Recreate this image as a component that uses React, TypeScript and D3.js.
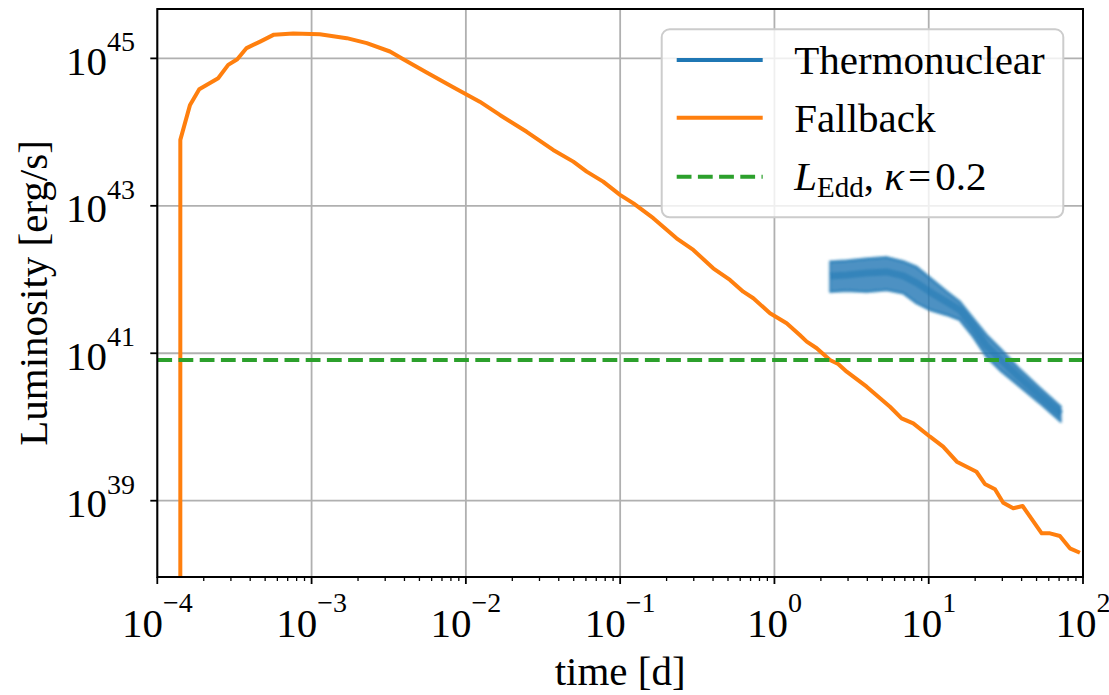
import React from "react";
import * as d3 from "d3";

// ---- data ----
const timeFallback = [
  1.41e-4, 1.41e-4, 1.63e-4, 1.87e-4, 2.48e-4, 2.88e-4, 3.3e-4, 3.79e-4, 4.64e-4, 5.7e-4,
  7.6e-4, 1.13e-3, 1.69e-3, 2.28e-3, 3.22e-3, 3.93e-3, 5.57e-3, 8.28e-3, 1.23e-2, 1.66e-2,
  2.48e-2, 3.68e-2, 4.97e-2, 6.07e-2, 7.76e-2, 9.98e-2, 0.122, 0.164, 0.232, 0.298,
  0.401, 0.515, 0.628, 0.73, 0.936, 1.2, 1.46, 1.62, 1.88, 2.29,
  2.59, 2.94, 3.96, 5.61, 6.67, 7.94, 10.2, 12.4, 15.2, 20.4,
  23.1, 26.9, 30.4, 35.3, 40.6, 54.0, 61.1, 70.8, 82.2, 95.5,
];
const lumFallback = [
  1e36, 7.84e43, 2.34e44, 3.82e44, 5.39e44, 8.17e44, 9.75e44, 1.38e45, 1.69e45, 2.1e45,
  2.17e45, 2.13e45, 1.88e45, 1.61e45, 1.24e45, 9.75e44, 6.42e44, 4.07e44, 2.59e44, 1.71e44,
  1.01e44, 5.73e43, 3.98e43, 2.91e43, 2.13e43, 1.41e43, 1.08e43, 6.79e42, 3.63e42, 2.52e42,
  1.42e42, 9.89e41, 6.85e41, 5.57e41, 3.49e41, 2.55e41, 1.77e41, 1.44e41, 1.17e41, 8.11e40,
  7.16e40, 5.62e40, 3.52e40, 1.88e40, 1.31e40, 1.12e40, 7.38e39, 5.41e39, 3.38e39, 2.47e39,
  1.69e39, 1.43e39, 9.4e38, 7.89e38, 8.47e38, 3.61e38, 3.61e38, 3.32e38, 2.26e38, 1.97e38,
];

const timeThermo = [2.29, 2.94, 3.96, 5.34, 6.84, 8.35, 10.2, 13.1, 15.9, 19.4, 23.7, 28.9, 39.0, 52.6, 71.9];
const lumThermoUpper = [1.75e42, 1.8e42, 1.91e42, 2.0e42, 1.76e42, 1.48e42, 1.05e42, 6.85e41, 5.01e41, 2.96e41, 1.77e41, 1.17e41, 6.03e40, 3.38e40, 1.88e40];
const lumThermoMid = [1.12e42, 1.15e42, 1.23e42, 1.27e42, 1.12e42, 8.99e41, 6.79e41, 4.97e41, 3.87e41, 2.28e41, 1.26e41, 8.37e40, 4.62e40, 2.64e40, 1.5e40];
const lumThermoLower = [6.85e41, 7.07e41, 6.85e41, 7.23e41, 6.52e41, 4.77e41, 3.87e41, 3.31e41, 2.83e41, 1.68e41, 8.99e40, 5.93e40, 3.52e40, 2.1e40, 1.18e40];

const lumEddington = 8.1e40;

const xTickExps = [-4, -3, -2, -1, 0, 1, 2];
const yTickExps = [39, 41, 43, 45];

const legendLabels = ["Thermonuclear", "Fallback"];

// ---- layout ----
const W = 1109;
const H = 695;
const L = 157.3;
const R = 1083;
const T = 9;
const B = 577;

const BLUE = "#1f77b4";
const ORANGE = "#ff7f0e";
const GREEN = "#2ca02c";
const FONT = "'Liberation Serif', 'Times New Roman', serif";

function sup(e: number) {
  return e < 0 ? "\u2212" + Math.abs(e) : String(e);
}

export default function App() {
  const x = d3.scaleLog().domain([1e-4, 1e2]).range([L, R]);
  const y = d3.scaleLog().domain([Math.pow(10, 37.965), Math.pow(10, 45.67)]).range([B, T]);

  const line = d3
    .line<[number, number]>()
    .x((d) => x(d[0]))
    .y((d) => y(d[1]));

  const fallbackPts = timeFallback.map((t, i) => [t, lumFallback[i]] as [number, number]);
  const upperPts = timeThermo.map((t, i) => [t, lumThermoUpper[i]] as [number, number]);
  const midPts = timeThermo.map((t, i) => [t, lumThermoMid[i]] as [number, number]);
  const lowerPts = timeThermo.map((t, i) => [t, lumThermoLower[i]] as [number, number]);

  const area = d3
    .area<number>()
    .x((_, i) => x(timeThermo[i]))
    .y0((_, i) => y(lumThermoLower[i]))
    .y1((_, i) => y(lumThermoUpper[i]));

  const minorTicks: number[] = [];
  for (let e = -4; e < 2; e++) {
    for (let k = 2; k <= 9; k++) minorTicks.push(k * Math.pow(10, e));
  }

  const legX = 661.7;
  const legY = 29.3;
  const legW = 401.6;
  const legH = 188;
  const rowY = [60, 117.7, 176.7];
  const lineX0 = 676.7;
  const lineX1 = 762.7;
  const textX = 794.3;

  return (
    <svg
      width={W}
      height={H}
      style={{ position: "absolute", left: 0, top: 0, background: "#fff" }}
      fontFamily={FONT}
    >
      <defs>
        <clipPath id="plotclip">
          <rect x={L} y={T} width={R - L} height={B - T} />
        </clipPath>
        <filter id="soft" x="-5%" y="-5%" width="110%" height="110%">
          <feGaussianBlur stdDeviation={0.8} />
        </filter>
      </defs>
      <rect x={0} y={0} width={W} height={H} fill="#fff" />

      {/* grid */}
      <g stroke="#b0b0b0" strokeWidth={1.8}>
        {xTickExps.map((e) => (
          <line key={"gx" + e} x1={x(Math.pow(10, e))} x2={x(Math.pow(10, e))} y1={T} y2={B} />
        ))}
        {yTickExps.map((e) => (
          <line key={"gy" + e} x1={L} x2={R} y1={y(Math.pow(10, e))} y2={y(Math.pow(10, e))} />
        ))}
      </g>

      <g clipPath="url(#plotclip)">
        {/* thermonuclear band */}
        <g filter="url(#soft)">
          <path d={area(timeThermo) || ""} fill={BLUE} fillOpacity={0.8} stroke={BLUE} strokeOpacity={0.45} strokeWidth={3} strokeLinejoin="round" />
          <path d={line(upperPts) || ""} fill="none" stroke={BLUE} strokeOpacity={0.35} strokeWidth={3} strokeLinejoin="round" />
          <path d={line(lowerPts) || ""} fill="none" stroke={BLUE} strokeOpacity={0.35} strokeWidth={3} strokeLinejoin="round" />
          <path d={line(midPts) || ""} fill="none" stroke={BLUE} strokeOpacity={0.5} strokeWidth={7} strokeLinejoin="round" />
        </g>

        {/* fallback */}
        <path d={line(fallbackPts) || ""} fill="none" stroke={ORANGE} strokeWidth={4} strokeLinejoin="round" />

        {/* Eddington */}
        <line x1={L} x2={R} y1={y(lumEddington)} y2={y(lumEddington)} stroke={GREEN} strokeWidth={4} strokeDasharray="14.8 6.4" />
      </g>

      {/* spines */}
      <rect x={L} y={T} width={R - L} height={B - T} fill="none" stroke="#000" strokeWidth={2} />

      {/* ticks */}
      <g stroke="#000">
        {xTickExps.map((e) => (
          <line key={"xt" + e} x1={x(Math.pow(10, e))} x2={x(Math.pow(10, e))} y1={B} y2={B + 7} strokeWidth={1.8} />
        ))}
        {minorTicks.map((v, i) => (
          <line key={"xm" + i} x1={x(v)} x2={x(v)} y1={B} y2={B + 4} strokeWidth={1.3} />
        ))}
        {yTickExps.map((e) => (
          <line key={"yt" + e} x1={L - 7} x2={L} y1={y(Math.pow(10, e))} y2={y(Math.pow(10, e))} strokeWidth={1.8} />
        ))}
      </g>

      {/* x tick labels */}
      {xTickExps.map((e) => (
        <text key={"xl" + e} x={x(Math.pow(10, e))} y={636.5} textAnchor="middle" fontSize={41} fill="#000">
          <tspan>10</tspan>
          <tspan fontSize={28} dy={-25}>{sup(e)}</tspan>
        </text>
      ))}

      {/* y tick labels */}
      {yTickExps.map((e) => (
        <text key={"yl" + e} x={135} y={y(Math.pow(10, e)) + 16.5} textAnchor="end" fontSize={41} fill="#000">
          <tspan>10</tspan>
          <tspan fontSize={28} dy={-23.5}>{sup(e)}</tspan>
        </text>
      ))}

      {/* axis labels */}
      <text x={(L + R) / 2} y={685} textAnchor="middle" fontSize={41} fill="#000">
        time [d]
      </text>
      <text transform={`translate(47, ${(T + B) / 2}) rotate(-90)`} textAnchor="middle" fontSize={41} fill="#000">
        Luminosity [erg/s]
      </text>

      {/* legend */}
      <rect x={legX} y={legY} width={legW} height={legH} rx={8} ry={8} fill="#fff" fillOpacity={0.8} stroke="#cccccc" strokeWidth={2} />
      <line x1={lineX0} x2={lineX1} y1={rowY[0]} y2={rowY[0]} stroke={BLUE} strokeWidth={4} />
      <line x1={lineX0} x2={lineX1} y1={rowY[1]} y2={rowY[1]} stroke={ORANGE} strokeWidth={4} />
      <line x1={lineX0} x2={lineX1} y1={rowY[2]} y2={rowY[2]} stroke={GREEN} strokeWidth={4} strokeDasharray="14.8 6.4" />
      <text x={textX} y={74} fontSize={41} fill="#000">{legendLabels[0]}</text>
      <text x={textX} y={132.3} fontSize={41} fill="#000">{legendLabels[1]}</text>
      <text x={textX} y={190} fontSize={41} fill="#000">
        <tspan fontStyle="italic">L</tspan>
        <tspan fontSize={29} dy={7}>Edd</tspan>
        <tspan dy={-7}>, </tspan>
        <tspan fontStyle="italic">κ</tspan>
        <tspan dx={4}>=</tspan>
        <tspan dx={4}>0.2</tspan>
      </text>
    </svg>
  );
}
